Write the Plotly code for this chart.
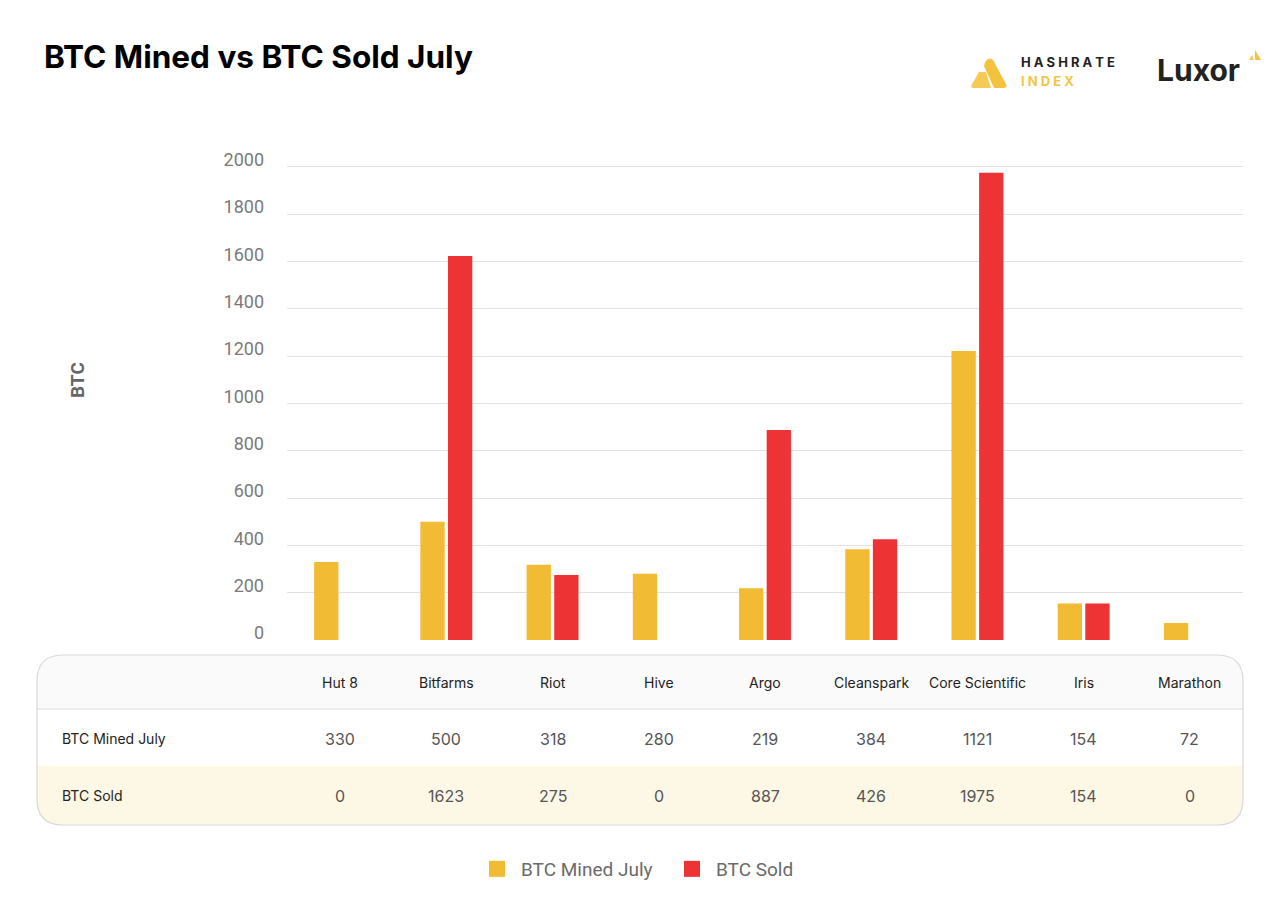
import plotly.graph_objects as go

# ---------------- data ----------------
companies = ["Hut 8", "Bitfarms", "Riot", "Hive", "Argo", "Cleanspark",
             "Core Scientific", "Iris", "Marathon"]
btc_mined_july = [330, 500, 318, 280, 219, 384, 1221, 154, 72]
btc_sold = [0, 1623, 275, 0, 887, 426, 1975, 154, 0]
# values printed in the table (as shown in the source image)
table_mined_text = ["330", "500", "318", "280", "219", "384", "1121", "154", "72"]
table_sold_text = ["0", "1623", "275", "0", "887", "426", "1975", "154", "0"]
y_ticks = [0, 200, 400, 600, 800, 1000, 1200, 1400, 1600, 1800, 2000]

YELLOW = "#F1BB33"
RED = "#EE3335"

W, H = 1280, 916
L, R, T, B = 287, 37, 162, 276
PW, PH = W - L - R, H - T - B


def px(x):
    return (x - L) / PW


def py(y):
    return (H - B - y) / PH


fig = go.Figure()
fig.add_trace(go.Bar(name="BTC Mined July", x=companies, y=btc_mined_july,
                     marker=dict(color=YELLOW, line=dict(width=0)), showlegend=False))
fig.add_trace(go.Bar(name="BTC Sold", x=companies, y=btc_sold,
                     marker=dict(color=RED, line=dict(width=0)), showlegend=False))
# legend entries with larger square swatches
for name, col in [("BTC Mined July", YELLOW), ("BTC Sold", RED)]:
    fig.add_trace(go.Scatter(name=name, x=[None], y=[None], mode="markers",
                             marker=dict(symbol="square", size=16, color=col),
                             showlegend=True))

shapes = []
annotations = []

# ---- table ----
x0, x1 = 37, 1243
y0, y1, y2, y3 = 655, 709, 766, 825
r = 26


def rounded_path(xa, ya, xb, yb, rt, rb):
    p = f"M{px(xa + rt)},{py(ya)} L{px(xb - rt)},{py(ya)} "
    p += f"Q{px(xb)},{py(ya)} {px(xb)},{py(ya + rt)} "
    p += f"L{px(xb)},{py(yb - rb)} "
    p += f"Q{px(xb)},{py(yb)} {px(xb - rb)},{py(yb)} "
    p += f"L{px(xa + rb)},{py(yb)} "
    p += f"Q{px(xa)},{py(yb)} {px(xa)},{py(yb - rb)} "
    p += f"L{px(xa)},{py(ya + rt)} "
    p += f"Q{px(xa)},{py(ya)} {px(xa + rt)},{py(ya)} Z"
    return p


shapes.append(dict(type="path", xref="paper", yref="paper", layer="below",
                   path=rounded_path(x0, y0, x1, y1, r, 0),
                   fillcolor="#FAFAFA", line=dict(width=0)))
shapes.append(dict(type="path", xref="paper", yref="paper", layer="below",
                   path=rounded_path(x0, y2, x1, y3, 0, r),
                   fillcolor="#FDF8E6", line=dict(width=0)))
shapes.append(dict(type="path", xref="paper", yref="paper", layer="below",
                   path=rounded_path(x0, y0, x1, y3, r, r),
                   fillcolor="rgba(0,0,0,0)", line=dict(color="#D9D9D9", width=1.2)))
shapes.append(dict(type="line", xref="paper", yref="paper", layer="below",
                   x0=px(x0), x1=px(x1), y0=py(y1), y1=py(y1),
                   line=dict(color="#DADADA", width=1.2)))

hdr_y = py((y0 + y1) / 2)
r1_y = py((y1 + y2) / 2 + 1)
r2_y = py((y2 + y3) / 2)
for c, m, s in zip(companies, table_mined_text, table_sold_text):
    annotations.append(dict(x=c, y=hdr_y, xref="x", yref="paper", text=c,
                            showarrow=False, xanchor="center", yanchor="middle",
                            font=dict(family="Inter", size=14, color="#222")))
    annotations.append(dict(x=c, y=r1_y, xref="x", yref="paper", text=m,
                            showarrow=False, xanchor="center", yanchor="middle",
                            font=dict(family="Inter", size=16, color="#555")))
    annotations.append(dict(x=c, y=r2_y, xref="x", yref="paper", text=s,
                            showarrow=False, xanchor="center", yanchor="middle",
                            font=dict(family="Inter", size=16, color="#555")))
for label, yy in [("BTC Mined July", r1_y), ("BTC Sold", r2_y)]:
    annotations.append(dict(x=px(60), y=yy, xref="paper", yref="paper", text=label,
                            showarrow=False, xanchor="left", yanchor="middle",
                            font=dict(family="Inter", size=14, color="#222")))

# y axis title
annotations.append(dict(x=px(77), y=py(380), xref="paper", yref="paper",
                        text="<b>BTC</b>", textangle=-90, showarrow=False,
                        xanchor="center", yanchor="middle",
                        font=dict(family="Roboto", size=19, color="#666")))

# ---- logos ----
shapes.append(dict(type="path", xref="paper", yref="paper",
                   path=(f"M{px(985)},{py(62)} Q{px(989)},{py(56)} {px(993)},{py(60)} "
                         f"L{px(1006)},{py(84)} Q{px(1008)},{py(88)} {px(1003)},{py(88)} "
                         f"L{px(994)},{py(88)} L{px(984)},{py(66)} Z"),
                   fillcolor="#F3C23F", line=dict(width=0)))
shapes.append(dict(type="path", xref="paper", yref="paper",
                   path=(f"M{px(979)},{py(72)} L{px(986)},{py(72)} L{px(991)},{py(88)} "
                         f"L{px(973)},{py(88)} Q{px(970)},{py(88)} {px(972)},{py(84)} Z"),
                   fillcolor="#F5CB55", line=dict(width=0)))
annotations.append(dict(x=px(1019), y=py(62), xref="paper", yref="paper",
                        text="<b>H A S H R A T E</b>", showarrow=False,
                        xanchor="left", yanchor="middle",
                        font=dict(family="Inter", size=13, color="#222")))
annotations.append(dict(x=px(1019), y=py(81), xref="paper", yref="paper",
                        text="<b>I N D E X</b>", showarrow=False,
                        xanchor="left", yanchor="middle",
                        font=dict(family="Inter", size=13, color="#F2C546")))
annotations.append(dict(x=px(1155), y=py(70), xref="paper", yref="paper",
                        text="<b>Luxor</b>", showarrow=False,
                        xanchor="left", yanchor="middle",
                        font=dict(family="Inter", size=30, color="#222")))
shapes.append(dict(type="path", xref="paper", yref="paper",
                   path=(f"M{px(1255)},{py(50)} L{px(1261)},{py(60)} L{px(1255)},{py(60)} Z"),
                   fillcolor="#F3C23F", line=dict(width=0)))
shapes.append(dict(type="path", xref="paper", yref="paper",
                   path=(f"M{px(1252)},{py(55)} L{px(1254)},{py(60)} L{px(1249)},{py(60)} Z"),
                   fillcolor="#F5CB55", line=dict(width=0)))

fig.update_layout(
    width=W, height=H,
    margin=dict(l=L, r=R, t=T, b=B, autoexpand=False),
    paper_bgcolor="white", plot_bgcolor="white",
    barmode="group", bargap=0.48, bargroupgap=0.12,
    title=dict(text="<b>BTC Mined vs BTC Sold July</b>", xref="container", yref="container",
               x=44 / W, xanchor="left", y=1 - 57 / H, yanchor="middle",
               font=dict(family="Inter", size=31.5, color="#000")),
    xaxis=dict(showticklabels=False, showgrid=False, zeroline=False, showline=False,
               ticks="", range=[-0.5, len(companies) - 0.5]),
    yaxis=dict(range=[0, 2020], tickvals=y_ticks, showgrid=True, gridcolor="#E1E1E1",
               gridwidth=1, zeroline=False, showline=False, ticks="",
               ticklabelshift=-7, ticklabelstandoff=22,
               tickfont=dict(family="Roboto", size=18, color="#7A7A7A")),
    legend=dict(orientation="h", xref="container", yref="container",
                x=(640 + 28) / W, xanchor="center", y=1 - 869 / H, yanchor="middle",
                font=dict(family="Roboto", size=19, color="#6A6A6A"),
                itemwidth=38, traceorder="normal", entrywidth=142,
                entrywidthmode="pixels"),
    shapes=shapes, annotations=annotations,
    hovermode=False,
)

fig.write_html("out.html", config={"displayModeBar": False},
               post_script="document.body.style.margin='0px';")
